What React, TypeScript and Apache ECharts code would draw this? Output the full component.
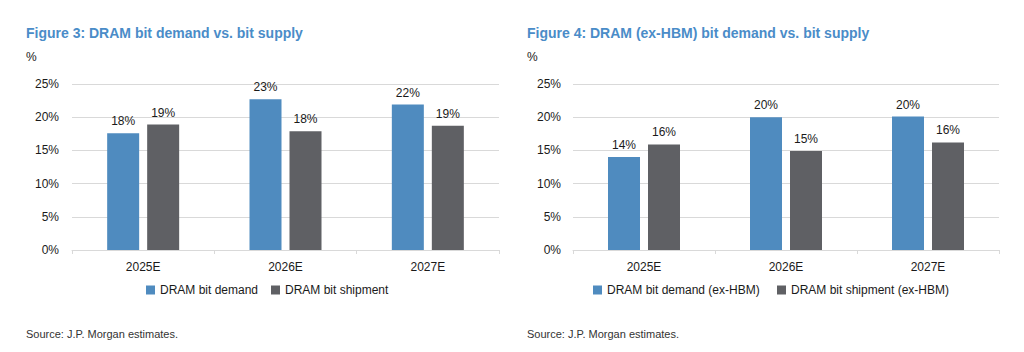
import React, { useEffect, useRef } from "react";
import * as echarts from "echarts";

const categories = ["2025E", "2026E", "2027E"];
const bitDemand = [17.6, 22.7, 21.9];
const bitShipment = [18.9, 17.9, 18.7];
const exHbmDemand = [14.0, 20.0, 20.1];
const exHbmShipment = [15.9, 14.9, 16.2];
const yTicks = { min: 0, max: 25, interval: 5 };

const BLUE = "#4F8BBF";
const GRAY = "#5F6064";
const TITLE = "#4A8CC8";
const FONT = "'Liberation Sans', Arial, sans-serif";
const TXT = "#1a1a1a";

export default function App() {
  const ref = useRef<HTMLDivElement>(null);
  useEffect(() => {
    if (!ref.current) return;
    const chart = echarts.init(ref.current, undefined, { renderer: "svg" });
    const grids = [
      { left: 72, right: 525, top: 84, bottom: 102 },
      { left: 573, right: 25, top: 84, bottom: 102 },
    ];
    const xAxis = grids.map((_, i) => ({
      type: "category",
      gridIndex: i,
      data: categories,
      axisLine: { lineStyle: { color: "#D9D9D9", width: 1 } },
      axisTick: { show: true, length: 4, lineStyle: { color: "#D9D9D9" } },
      axisLabel: { color: TXT, fontFamily: FONT, fontSize: 12, margin: 11 },
    }));
    const yAxis = grids.map((_, i) => ({
      type: "value",
      gridIndex: i,
      ...yTicks,
      axisLine: { show: false },
      axisTick: { show: false },
      splitLine: { lineStyle: { color: "#D9D9D9", width: 1 } },
      axisLabel: {
        color: TXT,
        fontFamily: FONT,
        fontSize: 12,
        margin: i === 0 ? 13 : 12,
        formatter: "{value}%",
      },
    }));
    const label = {
      show: true,
      position: "top",
      distance: 6,
      color: TXT,
      fontFamily: FONT,
      fontSize: 12,
      formatter: (p: any) => Math.round(p.value) + "%",
    };
    const mk = (name: string, data: number[], color: string, idx: number) => ({
      name,
      type: "bar",
      xAxisIndex: idx,
      yAxisIndex: idx,
      data,
      barWidth: 32,
      barGap: "25%",
      itemStyle: { color },
      label,
    });
    const series = [
      mk("DRAM bit demand", bitDemand, BLUE, 0),
      mk("DRAM bit shipment", bitShipment, GRAY, 0),
      mk("DRAM bit demand (ex-HBM)", exHbmDemand, BLUE, 1),
      mk("DRAM bit shipment (ex-HBM)", exHbmShipment, GRAY, 1),
    ];
    const legendPos = [146, 271, 593, 777];
    const legend = series.map((s, i) => ({
      data: [s.name],
      left: legendPos[i],
      top: 284,
      padding: 0,
      icon: "rect",
      itemWidth: 9,
      itemHeight: 9,
      selectedMode: false,
      textStyle: { color: TXT, fontFamily: FONT, fontSize: 12 },
    }));
    const txt = (text: string, x: number, y: number, font: string, fill: string) => ({
      type: "text",
      x,
      y,
      style: { text, font, fill, textVerticalAlign: "middle" },
    });
    chart.setOption({
      animation: false,
      grid: grids,
      xAxis,
      yAxis,
      series,
      legend,
      graphic: [
        txt("Figure 3: DRAM bit demand vs. bit supply", 26, 33, `bold 14px ${FONT}`, TITLE),
        txt("Figure 4: DRAM (ex-HBM) bit demand vs. bit supply", 527, 33, `bold 14px ${FONT}`, TITLE),
        txt("%", 26, 57, `12px ${FONT}`, TXT),
        txt("%", 527, 57, `12px ${FONT}`, TXT),
        txt("Source: J.P. Morgan estimates.", 26, 334, `11px ${FONT}`, "#333"),
        txt("Source: J.P. Morgan estimates.", 527, 334, `11px ${FONT}`, "#333"),
      ],
    });
    return () => chart.dispose();
  }, []);
  return (
    <div
      ref={ref}
      style={{ position: "fixed", left: 0, top: 0, width: 1024, height: 352, background: "#fff" }}
    />
  );
}
